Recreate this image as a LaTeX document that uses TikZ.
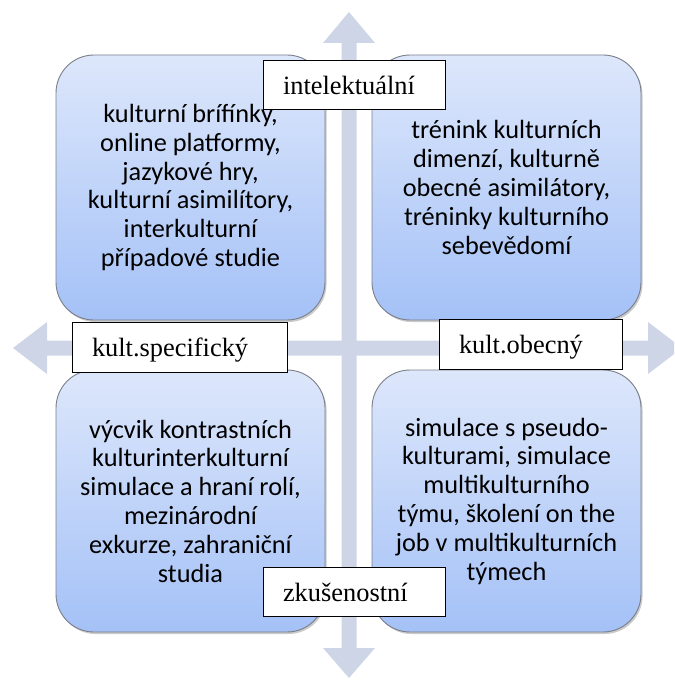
\documentclass[tikz,border=0pt]{standalone}
\usepackage{fontspec}
\setmainfont{Liberation Serif}
\newfontfamily\boxfont{Carlito}
\usetikzlibrary{shadows}
\definecolor{arrowcol}{HTML}{CDD5E6}
\definecolor{boxtop}{HTML}{DDE7FB}
\definecolor{boxbot}{HTML}{A4C1F7}
\definecolor{boxline}{HTML}{7A7F8A}
\tikzset{
  quad/.style={rectangle, rounded corners=38pt, draw=boxline, line width=0.9pt,
    top color=boxtop, bottom color=boxbot, align=center,
    font=\boxfont\fontsize{26.3}{28.8}\selectfont, text=black,
    drop shadow={shadow xshift=1.5pt, shadow yshift=-2pt, opacity=0.35, fill=black!60},
    minimum width=269pt, inner sep=0pt},
  axlabel/.style={rectangle, draw=black, line width=1pt, fill=white, align=left,
    font=\fontsize{26.4}{30}\selectfont, inner xsep=20pt, inner ysep=0pt,
    text height=22pt, text depth=3pt, minimum height=49pt},
  axarrow/.style={fill=arrowcol, draw=none}
}
\begin{document}
\begin{tikzpicture}[x=1pt,y=-1pt]
\useasboundingbox (0,0) rectangle (674,682);
\begin{scope}
\clip (0,0) rectangle (674,682);
% vertical double arrow
\fill[arrowcol] (349,12) -- (375,43) -- (356.5,43) -- (356.5,648) -- (375,648)
  -- (349,678) -- (323,648) -- (341.5,648) -- (341.5,43) -- (323,43) -- cycle;
% horizontal double arrow
\fill[arrowcol] (13,348) -- (47,322) -- (47,340.5) -- (648,340.5) -- (648,322)
  -- (682,348) -- (648,374) -- (648,355.5) -- (47,355.5) -- (47,374) -- cycle;
\end{scope}
% quadrant boxes
\node[quad, minimum height=265pt] (tl) at (190.5,187.5)
  {kulturní brífínky,\\online platformy,\\jazykové hry,\\kulturní asimilítory,\\interkulturní\\případové studie};
\node[quad, minimum height=265pt] (tr) at (506.5,187.5)
  {trénink kulturních\\dimenzí, kulturně\\obecné asimilátory,\\tréninky kulturního\\sebevědomí};
\node[quad, minimum height=262pt] (bl) at (190.5,501)
  {výcvik kontrastních\\kulturinterkulturní\\simulace a hraní rolí,\\mezinárodní\\exkurze, zahraniční\\studia};
\node[quad, minimum height=262pt] (br) at (506.5,501)
  {simulace s pseudo-\\kulturami, simulace\\multikulturního\\týmu, školení on the\\job v multikulturních\\týmech};
% axis labels
\node[axlabel, text width=142pt] (intel) at (354,85.5) {intelektuální};
\node[axlabel, text width=175pt, minimum height=50pt] (kspec) at (179.5,347) {kult.specifický};
\node[axlabel, text width=143pt, minimum height=50pt] (kobec) at (530.5,344) {kult.obecný};
\node[axlabel, text width=142pt] (zkus) at (354,591.5) {zkušenostní};
\end{tikzpicture}
\end{document}
